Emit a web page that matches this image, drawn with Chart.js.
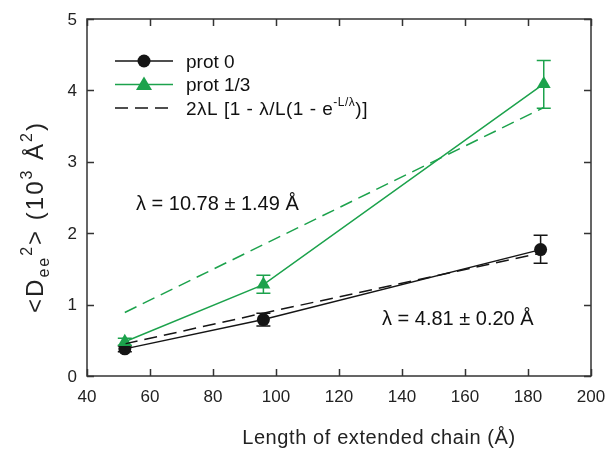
<!DOCTYPE html>
<html>
<head>
<meta charset="utf-8">
<script src="https://cdn.jsdelivr.net/npm/chart.js@4.4.1/dist/chart.umd.min.js"></script>
<style>
html,body{margin:0;padding:0;background:#fff;}
canvas{display:block;}
</style>
</head>
<body>
<canvas id="c" width="607" height="451"></canvas>
<script>
// ---- data ----
const xTicks = [40, 60, 80, 100, 120, 140, 160, 180, 200];
const yTicks = [0, 1, 2, 3, 4, 5];

const prot0L = [52, 96, 184];
const prot0D = [0.38, 0.79, 1.77];
const prot0ErrUp = [0.04, 0.09, 0.20];
const prot0ErrDown = [0.04, 0.09, 0.19];

const prot13L = [52, 96, 185];
const prot13D = [0.48, 1.28, 4.09];
const prot13ErrUp = [0.05, 0.13, 0.33];
const prot13ErrDown = [0.05, 0.12, 0.34];

const fit0L = [52, 96, 184];
const fit0D = [0.45, 0.88, 1.72];
const fit13L = [52, 96, 185];
const fit13D = [0.89, 1.84, 3.76];

const legendLabels = ["prot 0", "prot 1/3"];
const lambdaText13 = "λ = 10.78 ± 1.49 Å";
const lambdaText0 = "λ = 4.81 ± 0.20 Å";

const BLACK = '#151515';
const GREEN = '#1ca24c';
const FONT = 'Arial, "Liberation Sans", sans-serif';

function pts(xs, ys) { return xs.map((x, i) => ({x: x, y: ys[i]})); }

function drawSegments(ctx, x, y, segs, align, spacing) {
  ctx.letterSpacing = (spacing || 0) + 'px';
  let total = 0;
  segs.forEach(s => { ctx.font = s.size + 'px ' + FONT; total += ctx.measureText(s.t).width; });
  let cx = align === 'center' ? x - total / 2 : x;
  ctx.textBaseline = 'alphabetic';
  ctx.textAlign = 'left';
  segs.forEach(s => {
    ctx.font = s.size + 'px ' + FONT;
    ctx.fillText(s.t, cx, y + (s.dy || 0));
    cx += ctx.measureText(s.t).width;
  });
  ctx.letterSpacing = '0px';
}

const decor = {
  id: 'decor',
  afterDatasetsDraw(chart) {
    const ctx = chart.ctx;
    const xs = chart.scales.x, ys = chart.scales.y;
    const a = chart.chartArea;
    ctx.save();
    function errBars(L, D, up, down, color) {
      ctx.strokeStyle = color; ctx.lineWidth = 1.5; ctx.setLineDash([]);
      L.forEach((l, i) => {
        const px = xs.getPixelForValue(l);
        const yt = ys.getPixelForValue(D[i] + up[i]);
        const yb = ys.getPixelForValue(D[i] - down[i]);
        ctx.beginPath();
        ctx.moveTo(px, yt); ctx.lineTo(px, yb);
        ctx.moveTo(px - 7, yt); ctx.lineTo(px + 7, yt);
        ctx.moveTo(px - 7, yb); ctx.lineTo(px + 7, yb);
        ctx.stroke();
      });
    }
    errBars(prot0L, prot0D, prot0ErrUp, prot0ErrDown, BLACK);
    errBars(prot13L, prot13D, prot13ErrUp, prot13ErrDown, GREEN);

    // frame
    ctx.strokeStyle = '#333'; ctx.lineWidth = 1.5;
    ctx.strokeRect(a.left, a.top, a.right - a.left, a.bottom - a.top);
    ctx.beginPath();
    xTicks.forEach(v => {
      const px = Math.round(xs.getPixelForValue(v)) + 0.5;
      ctx.moveTo(px, a.bottom); ctx.lineTo(px, a.bottom - 7);
      ctx.moveTo(px, a.top); ctx.lineTo(px, a.top + 7);
    });
    yTicks.forEach(v => {
      const py = Math.round(ys.getPixelForValue(v)) + 0.5;
      ctx.moveTo(a.left, py); ctx.lineTo(a.left + 7, py);
      ctx.moveTo(a.right, py); ctx.lineTo(a.right - 7, py);
    });
    ctx.stroke();

    // tick labels
    ctx.fillStyle = '#222';
    ctx.font = '17px ' + FONT;
    ctx.textBaseline = 'middle';
    ctx.textAlign = 'center';
    xTicks.forEach(v => ctx.fillText(String(v), xs.getPixelForValue(v), a.bottom + 21));
    ctx.textAlign = 'right';
    yTicks.forEach(v => ctx.fillText(String(v), a.left - 10, ys.getPixelForValue(v) + 1));

    // legend
    const lx1 = 115, lx2 = 173, tx = 186;
    const rows = [61, 84.5, 108];
    ctx.lineWidth = 1.5;
    ctx.strokeStyle = BLACK; ctx.beginPath(); ctx.moveTo(lx1, rows[0]); ctx.lineTo(lx2, rows[0]); ctx.stroke();
    ctx.fillStyle = BLACK; ctx.beginPath(); ctx.arc(144, rows[0], 6.5, 0, Math.PI * 2); ctx.fill();
    ctx.strokeStyle = GREEN; ctx.beginPath(); ctx.moveTo(lx1, rows[1]); ctx.lineTo(lx2, rows[1]); ctx.stroke();
    ctx.fillStyle = GREEN; ctx.beginPath();
    ctx.moveTo(144, rows[1] - 8); ctx.lineTo(152, rows[1] + 5.5); ctx.lineTo(136, rows[1] + 5.5); ctx.closePath(); ctx.fill();
    ctx.strokeStyle = BLACK; ctx.setLineDash([13, 7]); ctx.beginPath(); ctx.moveTo(lx1, rows[2]); ctx.lineTo(lx2 + 2, rows[2]); ctx.stroke();
    ctx.setLineDash([]);
    ctx.fillStyle = '#111';
    drawSegments(ctx, tx, rows[0] + 6.5, [{t: legendLabels[0], size: 19}], 'left');
    drawSegments(ctx, tx, rows[1] + 6.5, [{t: legendLabels[1], size: 19}], 'left');
    drawSegments(ctx, tx, rows[2] + 6.5, [
      {t: '2λL [1 - λ/L(1 - e', size: 19},
      {t: '-L/λ', size: 12, dy: -9},
      {t: ')]', size: 19}
    ], 'left', 0.5);

    // annotations
    drawSegments(ctx, 136, 210, [{t: lambdaText13, size: 20}], 'left');
    drawSegments(ctx, 382, 325, [{t: lambdaText0, size: 20}], 'left');

    // axis titles
    ctx.fillStyle = '#222';
    drawSegments(ctx, 379, 444, [{t: 'Length of extended chain (Å)', size: 20}], 'center', 0.6);
    ctx.translate(43, 217);
    ctx.rotate(-Math.PI / 2);
    drawSegments(ctx, 0, 0, [
      {t: '<D', size: 24},
      {t: 'ee', size: 16, dy: 6},
      {t: '2', size: 16, dy: -11},
      {t: '> (10', size: 24},
      {t: '3', size: 16, dy: -11},
      {t: ' Å', size: 24},
      {t: '2', size: 16, dy: -11},
      {t: ')', size: 24}
    ], 'center', 2);
    ctx.restore();
  }
};

new Chart(document.getElementById('c'), {
  type: 'scatter',
  data: {
    datasets: [
      {label: 'fit prot 1/3', data: pts(fit13L, fit13D), showLine: true, borderColor: GREEN, borderWidth: 1.5, borderDash: [13, 7], pointRadius: 0, fill: false},
      {label: 'fit prot 0', data: pts(fit0L, fit0D), showLine: true, borderColor: BLACK, borderWidth: 1.5, borderDash: [13, 7], pointRadius: 0, fill: false},
      {label: legendLabels[1], data: pts(prot13L, prot13D), showLine: true, borderColor: GREEN, backgroundColor: GREEN, borderWidth: 1.5, pointStyle: 'triangle', pointRadius: 8, pointBorderWidth: 0, fill: false},
      {label: legendLabels[0], data: pts(prot0L, prot0D), showLine: true, borderColor: BLACK, backgroundColor: BLACK, borderWidth: 1.5, pointStyle: 'circle', pointRadius: 6.5, pointBorderWidth: 0, fill: false}
    ]
  },
  options: {
    responsive: false,
    animation: false,
    devicePixelRatio: 1,
    layout: {padding: {left: 0, top: 19, right: 16, bottom: 0}},
    plugins: {legend: {display: false}, tooltip: {enabled: false}},
    scales: {
      x: {
        type: 'linear', min: 40, max: 200,
        afterFit(s) { s.height = 75; s.paddingLeft = 0; s.paddingRight = 0; },
        afterBuildTicks(s) { s.ticks = xTicks.map(v => ({value: v})); },
        grid: {display: false, drawTicks: false},
        border: {display: false},
        ticks: {display: false}
      },
      y: {
        type: 'linear', min: 0, max: 5,
        afterFit(s) { s.width = 87; s.paddingTop = 0; s.paddingBottom = 0; },
        afterBuildTicks(s) { s.ticks = yTicks.map(v => ({value: v})); },
        grid: {display: false, drawTicks: false},
        border: {display: false},
        ticks: {display: false}
      }
    }
  },
  plugins: [decor]
});
</script>
</body>
</html>
